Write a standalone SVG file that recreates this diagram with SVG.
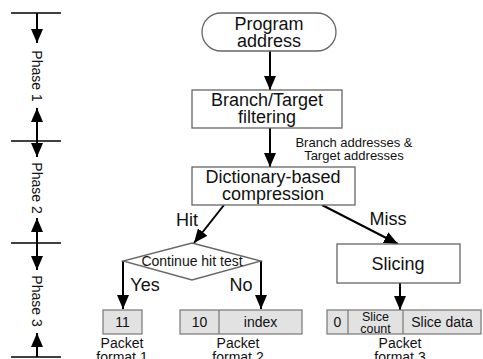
<svg xmlns="http://www.w3.org/2000/svg" width="483" height="359" viewBox="0 0 483 359">
<defs>
<style>
text{font-family:"Liberation Sans",Arial,sans-serif;fill:#111}
.t18{font-size:18px;text-anchor:middle}
.t14{font-size:14px;text-anchor:middle}
.t13{font-size:13px;text-anchor:middle}
.t12{font-size:12.5px;text-anchor:middle}
.box{fill:#fff;stroke:#666;stroke-width:1.3}
.pk{fill:#e2e2e2;stroke:#777;stroke-width:1.2}
.ln{stroke:#000;stroke-width:2;fill:none}
.tick{stroke:#000;stroke-width:1.5}
</style>
<marker id="ah" markerUnits="userSpaceOnUse" markerWidth="14" markerHeight="12" refX="14" refY="6" orient="auto">
<path d="M0,0 L14,6 L0,12 z" fill="#000"/>
</marker>
</defs>
<rect width="483" height="359" fill="#fff"/>

<g id="phases">
<line class="tick" x1="11" y1="13" x2="61" y2="13"/>
<line class="tick" x1="11" y1="141" x2="61" y2="141"/>
<line class="tick" x1="11" y1="243" x2="61" y2="243"/>
<line class="tick" x1="11" y1="357" x2="61" y2="357"/>
<line class="ln" x1="37" y1="13" x2="37" y2="43" marker-end="url(#ah)"/>
<line class="ln" x1="37" y1="141" x2="37" y2="108" marker-end="url(#ah)"/>
<line class="ln" x1="37" y1="141" x2="37" y2="157" marker-end="url(#ah)"/>
<line class="ln" x1="37" y1="243" x2="37" y2="218" marker-end="url(#ah)"/>
<line class="ln" x1="37" y1="243" x2="37" y2="270" marker-end="url(#ah)"/>
<line class="ln" x1="37" y1="357" x2="37" y2="333" marker-end="url(#ah)"/>
<text class="t14" transform="translate(37,76) rotate(90)" dy="5">Phase 1</text>
<text class="t14" transform="translate(37,188) rotate(90)" dy="5">Phase 2</text>
<text class="t14" transform="translate(37,301) rotate(90)" dy="5">Phase 3</text>
</g>

<g id="connectors">
<line class="ln" x1="270" y1="51" x2="270" y2="90" marker-end="url(#ah)"/>
<line class="ln" x1="270" y1="128" x2="270" y2="167" marker-end="url(#ah)"/>
<line class="ln" x1="224" y1="205" x2="194" y2="243" marker-end="url(#ah)"/>
<line class="ln" x1="322" y1="205" x2="398" y2="244" marker-end="url(#ah)"/>
<line class="ln" x1="123" y1="261" x2="123" y2="309" marker-end="url(#ah)"/>
<line class="ln" x1="261" y1="261" x2="261" y2="309" marker-end="url(#ah)"/>
<line class="ln" x1="400" y1="283" x2="400" y2="310" marker-end="url(#ah)"/>
<text class="t13" x="354" y="147">Branch addresses &amp;</text>
<text class="t13" x="354" y="160">Target addresses</text>
<text class="t18" x="187" y="226">Hit</text>
<text class="t18" x="388" y="225">Miss</text>
<text class="t18" x="145" y="291">Yes</text>
<text class="t18" x="241" y="291">No</text>
</g>

<g id="program-address">
<rect class="box" x="202" y="13" width="134" height="38" rx="19"/>
<text class="t18" x="269" y="30">Program</text>
<text class="t18" x="269" y="47">address</text>
</g>

<g id="filtering">
<rect class="box" x="192" y="90" width="150" height="38"/>
<text class="t18" x="267" y="106">Branch/Target</text>
<text class="t18" x="267" y="123">filtering</text>
</g>

<g id="compression">
<rect class="box" x="192" y="167" width="163" height="38"/>
<text class="t18" x="273" y="183">Dictionary-based</text>
<text class="t18" x="273" y="200">compression</text>
</g>

<g id="hit-test">
<polygon class="box" points="192,243 261,261 192,280 123,261"/>
<text class="t14" x="192" y="266">Continue hit test</text>
</g>

<g id="slicing">
<rect class="box" x="337" y="244" width="123" height="39"/>
<text class="t18" x="398" y="270">Slicing</text>
</g>

<g id="packet1">
<rect class="pk" x="103" y="310" width="39" height="24"/>
<text class="t14" x="122.5" y="327">11</text>
<text class="t14" x="122" y="348">Packet</text>
<text class="t14" x="122" y="362">format 1</text>
</g>

<g id="packet2">
<rect class="pk" x="180" y="310" width="122" height="24"/>
<line class="pk" x1="219" y1="310" x2="219" y2="334"/>
<text class="t14" x="199.5" y="327">10</text>
<text class="t14" x="260.5" y="327">index</text>
<text class="t14" x="238" y="348">Packet</text>
<text class="t14" x="238" y="362">format 2</text>
</g>

<g id="packet3">
<rect class="pk" x="327" y="310" width="154" height="24"/>
<line class="pk" x1="348" y1="310" x2="348" y2="334"/>
<line class="pk" x1="403" y1="310" x2="403" y2="334"/>
<text class="t14" x="337.5" y="327">0</text>
<text class="t12" x="375.5" y="320.5">Slice</text>
<text class="t12" x="375.5" y="332.5">count</text>
<text class="t14" x="442" y="327">Slice data</text>
<text class="t14" x="400" y="348">Packet</text>
<text class="t14" x="400" y="362">format 3</text>
</g>
</svg>
